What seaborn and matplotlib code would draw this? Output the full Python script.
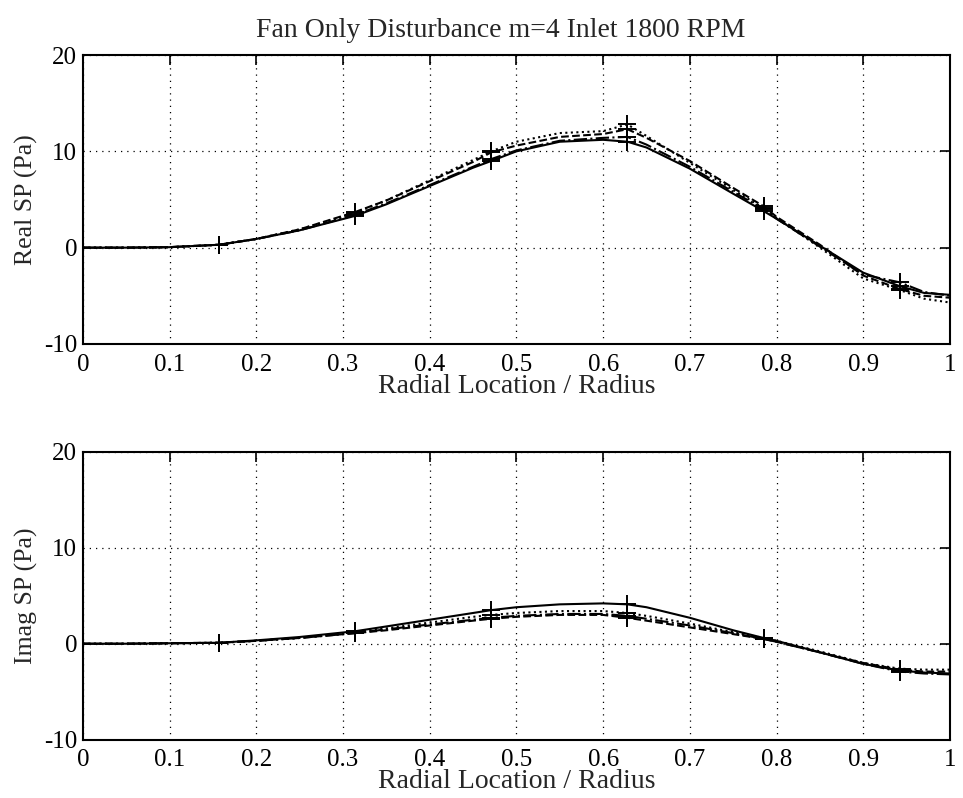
import numpy as np
import pandas as pd
import matplotlib
matplotlib.use("Agg")
import matplotlib.pyplot as plt
import seaborn as sns

sns.set_style("white")
plt.rcParams['font.family'] = ['Liberation Serif', 'DejaVu Serif']

title = "Fan Only Disturbance m=4 Inlet 1800 RPM"
x_label = "Radial Location / Radius"
y_labels = ["Real SP (Pa)", "Imag SP (Pa)"]

r = [0.0, 0.05, 0.1, 0.157, 0.2, 0.25, 0.314, 0.35, 0.4, 0.45, 0.471, 0.5, 0.55,
     0.6, 0.628, 0.65, 0.7, 0.75, 0.785, 0.8, 0.85, 0.9, 0.942, 0.97, 1.0]
r_meas = [0.157, 0.314, 0.471, 0.628, 0.785, 0.942]

real_solid = [0, 0, 0.05, 0.3, 0.9, 1.8, 3.3, 4.5, 6.4, 8.3, 9.0, 10.0, 11.0,
              11.2, 11.0, 10.4, 8.2, 5.6, 3.8, 3.0, 0.2, -2.6, -4.0, -4.7, -4.9]
real_dash = [0, 0, 0.05, 0.3, 0.9, 1.9, 3.7, 4.9, 6.9, 8.9, 9.9, 10.6, 11.5,
             11.8, 12.3, 11.4, 9.0, 6.2, 4.3, 3.2, 0.3, -2.9, -4.3, -5.0, -5.2]
real_dot = [0, 0, 0.05, 0.3, 0.9, 1.9, 3.6, 4.9, 7.0, 9.1, 10.0, 11.0, 11.9,
            12.1, 12.8, 11.6, 8.8, 6.0, 4.1, 3.1, 0.0, -3.2, -4.4, -5.3, -5.7]
real_dashdot = [0, 0, 0.05, 0.3, 0.9, 1.8, 3.4, 4.6, 6.5, 8.4, 9.2, 10.1, 11.1,
                11.4, 11.5, 10.7, 8.4, 5.8, 4.0, 3.0, 0.1, -2.8, -3.6, -4.6, -5.0]

imag_solid = [0, 0, 0.05, 0.1, 0.35, 0.7, 1.3, 1.8, 2.5, 3.2, 3.5, 3.8, 4.1,
              4.2, 4.1, 3.8, 2.7, 1.4, 0.6, 0.3, -0.9, -2.1, -2.8, -3.0, -3.1]
imag_dash = [0, 0, 0.05, 0.1, 0.3, 0.6, 1.1, 1.4, 1.9, 2.4, 2.6, 2.8, 3.0,
             3.0, 2.7, 2.4, 1.7, 1.0, 0.5, 0.2, -0.9, -2.0, -2.7, -2.9, -2.9]
imag_dot = [0, 0, 0.05, 0.1, 0.3, 0.6, 1.2, 1.6, 2.2, 2.8, 3.0, 3.2, 3.4,
            3.4, 3.2, 2.9, 2.1, 1.2, 0.6, 0.3, -0.8, -2.0, -2.6, -2.7, -2.7]
imag_dashdot = [0, 0, 0.05, 0.1, 0.3, 0.6, 1.1, 1.5, 2.0, 2.5, 2.7, 2.9, 3.1,
                3.1, 2.9, 2.6, 1.9, 1.1, 0.5, 0.2, -0.9, -2.1, -2.9, -3.1, -3.2]

styles = ['-', '--', ':', '-.']
real_series = [real_solid, real_dash, real_dot, real_dashdot]
imag_series = [imag_solid, imag_dash, imag_dot, imag_dashdot]

x_ticks = [0, 0.1, 0.2, 0.3, 0.4, 0.5, 0.6, 0.7, 0.8, 0.9, 1]
x_ticklabels = ["0", "0.1", "0.2", "0.3", "0.4", "0.5", "0.6", "0.7", "0.8", "0.9", "1"]
y_ticks = [-10, 0, 10, 20]
y_ticklabels = ["-10", "0", "10", "20"]

fig = plt.figure(figsize=(9.63, 7.98), dpi=100)
ax1 = fig.add_axes([0.086, 0.569, 0.9005, 0.362])
ax2 = fig.add_axes([0.086, 0.073, 0.9005, 0.361])

for ax, series, ylab in [(ax1, real_series, y_labels[0]), (ax2, imag_series, y_labels[1])]:
    for vals, ls in zip(series, styles):
        df = pd.DataFrame({"r": r, "v": vals})
        sns.lineplot(data=df, x="r", y="v", ax=ax, color="black", linestyle=ls,
                     linewidth=1.5, estimator=None, sort=True)
        meas = pd.DataFrame({"r": r_meas, "v": np.interp(r_meas, r, vals)})
        sns.scatterplot(data=meas, x="r", y="v", ax=ax, marker="+", color="black",
                        s=170, linewidth=1.4, zorder=5)
    ax.set_xlim(0, 1)
    ax.set_ylim(-10, 20)
    ax.set_xticks(x_ticks)
    ax.set_xticklabels(x_ticklabels)
    ax.set_yticks(y_ticks)
    ax.set_yticklabels(y_ticklabels)
    ax.grid(True, linestyle=(0, (1, 4)), color="black", linewidth=0.9)
    ax.tick_params(direction="in", top=True, right=True, length=7, width=1.2,
                   labelsize=18, colors="black")
    ax.tick_params(axis="x", pad=7)
    ax.tick_params(axis="y", pad=4)
    for sp in ax.spines.values():
        sp.set_color("black")
        sp.set_linewidth(1.5)
    ax.set_xlabel(x_label, fontsize=20, labelpad=-1.5)
    ax.set_ylabel(ylab, fontsize=18.5, labelpad=4)

ax1.set_title(title, fontsize=20, pad=13, x=0.482)

fig.savefig("out.png", dpi=100)
